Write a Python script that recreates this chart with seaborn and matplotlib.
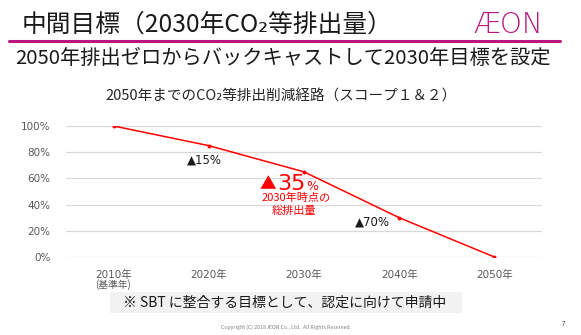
import matplotlib
matplotlib.use("Agg")
import matplotlib.pyplot as plt
import seaborn as sns
import pandas as pd
from matplotlib.patches import Rectangle
from matplotlib.lines import Line2D

# ---- data ----
years = ["2010年", "2020年", "2030年", "2040年", "2050年"]
emissions = [1.00, 0.85, 0.65, 0.30, 0.00]
y_ticks = [0.0, 0.2, 0.4, 0.6, 0.8, 1.0]
y_tick_labels = ["0%", "20%", "40%", "60%", "80%", "100%"]

title = "中間目標（2030年CO₂等排出量）"
subtitle = "2050年排出ゼロからバックキャストして2030年目標を設定"
chart_title = "2050年までのCO₂等排出削減経路（スコープ１＆２）"
note = "※ SBT に整合する目標として、認定に向けて申請中"
base_year_note = "(基準年)"
copyright_text = "Copyright (C) 2018 ÆON Co., Ltd.  All Rights Reserved."
page_no = "7"

sns.set_theme(style="white")
plt.rcParams['font.family'] = ['Noto Sans CJK JP', 'DejaVu Sans']
NUM_FONT = ['DejaVu Sans', 'Noto Sans CJK JP']

W, H = 581, 335
fig = plt.figure(figsize=(W / 100, H / 100), dpi=100)
fig.patch.set_facecolor("white")


def P(x, y):
    return x / W, 1 - y / H


# ---- axes ----
ax_l, ax_r, ax_t, ax_b = 66, 542, 126, 257
ax = fig.add_axes([ax_l / W, 1 - ax_b / H, (ax_r - ax_l) / W, (ax_b - ax_t) / H])
df = pd.DataFrame({"year": years, "value": emissions})
sns.pointplot(data=df, x="year", y="value", color="#FF0000", ax=ax,
              markersize=2.0, linewidth=1.1, order=years)
ax.set_xlim(-0.5, len(years) - 0.5)
ax.set_ylim(0, 1.0)
ax.set_yticks(y_ticks)
ax.set_yticklabels(y_tick_labels, family=NUM_FONT)
ax.set_xticks(range(len(years)))
ax.set_xticklabels(years, family=NUM_FONT)
ax.set_xlabel("")
ax.set_ylabel("")
for s in ax.spines.values():
    s.set_visible(False)
ax.grid(axis="y", color="#D9D9D9", linewidth=0.9)
ax.set_axisbelow(True)
ax.tick_params(axis="y", length=0, pad=11, labelsize=7.5, labelcolor="#595959")
ax.tick_params(axis="x", length=0, pad=9, labelsize=7.5, labelcolor="#595959")
ax.set_facecolor("white")

# ---- header ----
fig.text(*P(22, 25), title, fontsize=17.8, color="#1a1a1a", va="center", ha="left")
fig.add_artist(Line2D([9 / W, 560 / W], [1 - 40.5 / H] * 2, color="#B8177F", linewidth=2.2))
fig.text(*P(508, 25), "ÆON", fontsize=20, color="#B8177F", va="center", ha="center",
         family=["DejaVu Sans"], fontweight="light")
fig.text(*P(15, 58), subtitle, fontsize=14.6, color="#1a1a1a", va="center", ha="left")

fig.text(*P(281, 97), chart_title, fontsize=10.5, color="#262626", va="center", ha="center")

# ---- annotations ----
fig.text(*P(204, 160), "▲15%", fontsize=8.5, color="#1a1a1a", va="center", ha="center",
         family=NUM_FONT)
fig.text(*P(268, 185), "▲", fontsize=12, color="#FF0000", va="center", ha="center")
fig.text(*P(291, 183.5), "35", fontsize=16, color="#FF0000", va="center", ha="center",
         family=NUM_FONT)
fig.text(*P(312, 186), "%", fontsize=9, color="#FF0000", va="center", ha="center",
         family=NUM_FONT)
fig.text(*P(296, 198), "2030年時点の", fontsize=8, color="#FF0000", va="center", ha="center")
fig.text(*P(294, 211), "総排出量", fontsize=8, color="#FF0000", va="center", ha="center")
fig.text(*P(372, 222), "▲70%", fontsize=8.5, color="#1a1a1a", va="center", ha="center",
         family=NUM_FONT)

fig.text(*P(113, 285), base_year_note, fontsize=7, color="#595959", va="center", ha="center")

# ---- note box ----
fig.add_artist(Rectangle(P(110, 313), (462 - 110) / W, (313 - 292) / H,
                         transform=fig.transFigure, facecolor="#F2F2F2", edgecolor="none"))
fig.text(*P(285, 302.5), note, fontsize=10, color="#1a1a1a", va="center", ha="center")

# ---- footer ----
fig.text(*P(286, 327), copyright_text, fontsize=3.8, color="#7f7f7f", va="center", ha="center")
fig.text(*P(563, 324), page_no, fontsize=4.5, color="#404040", va="center", ha="center")

fig.savefig("out.png", dpi=100, facecolor="white")
